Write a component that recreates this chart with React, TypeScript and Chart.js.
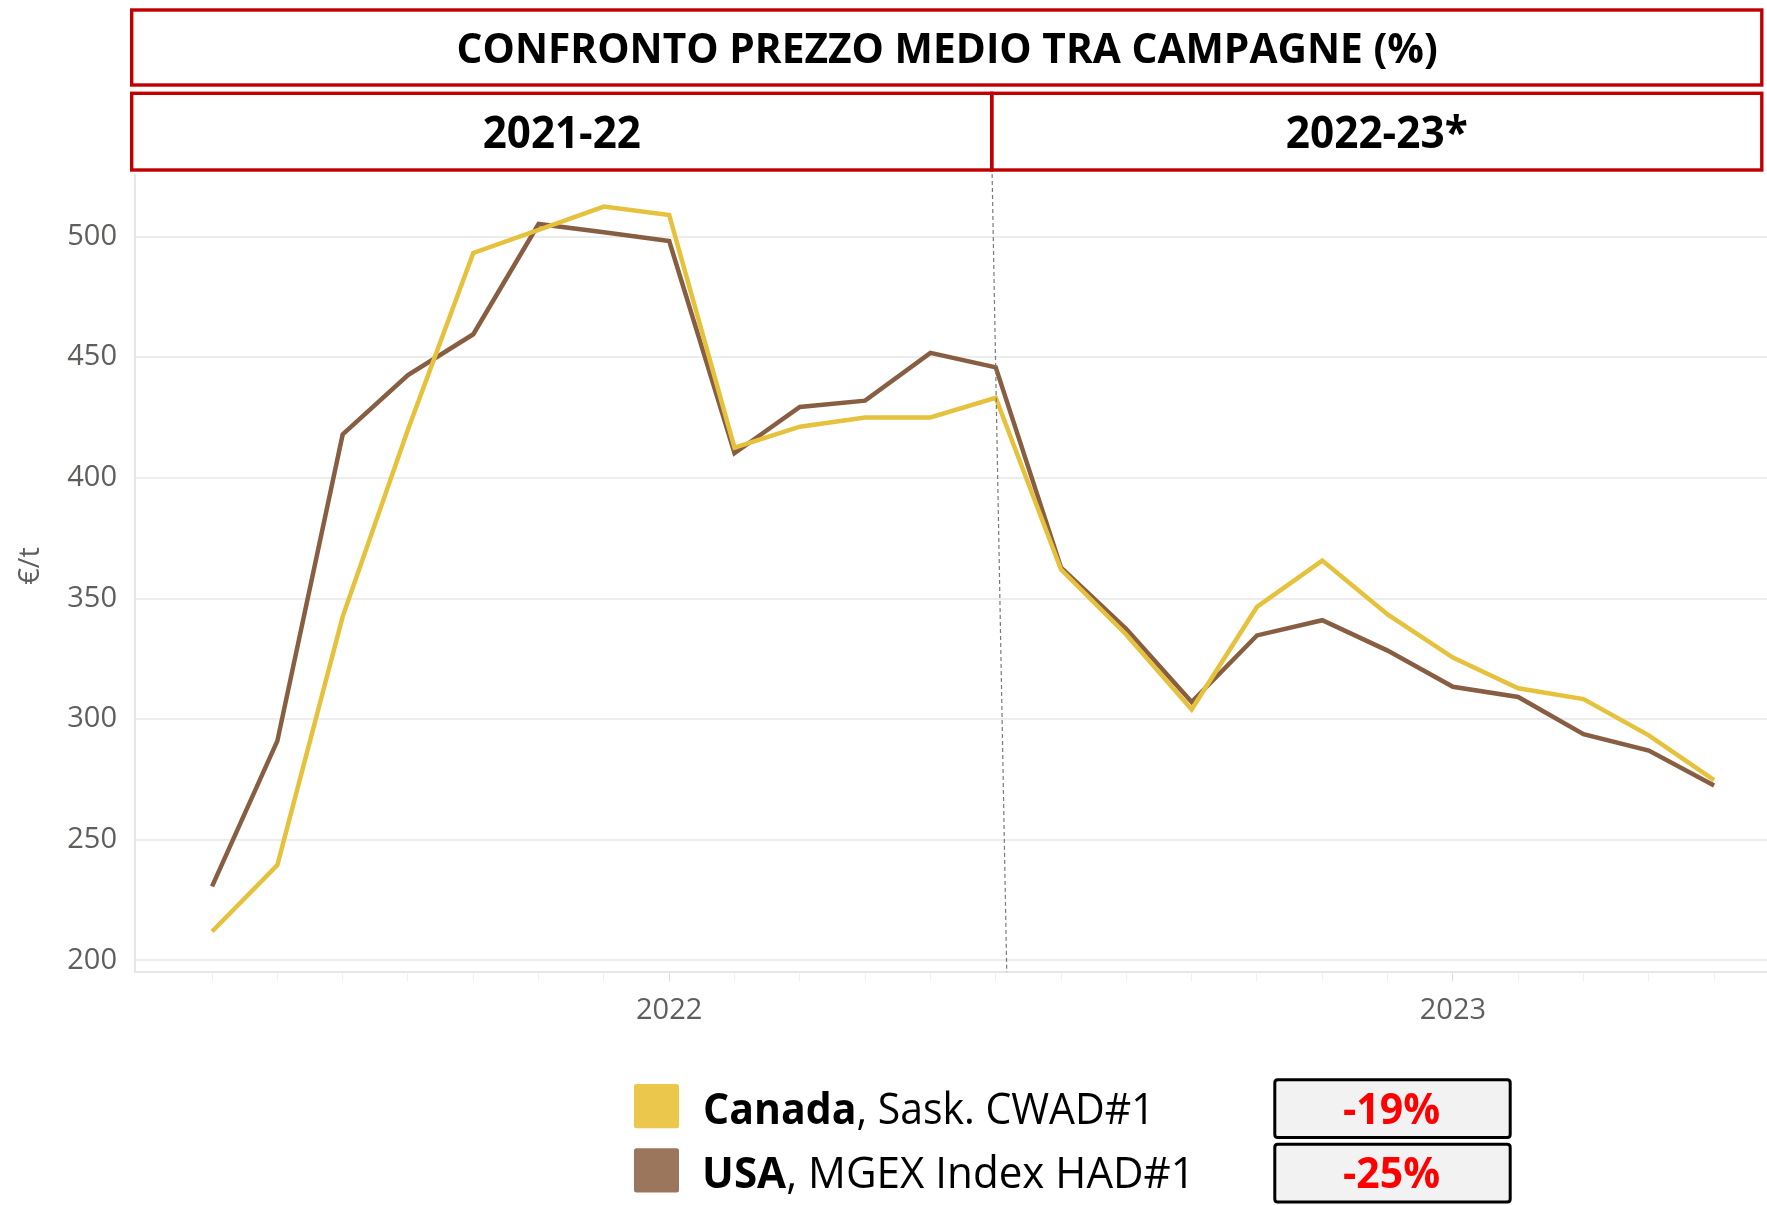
import React, { useEffect, useRef } from 'react';
import { Chart, registerables } from 'chart.js';

Chart.register(...registerables);

// ---------- DATA ----------
const months = [
  '2021-06', '2021-07', '2021-08', '2021-09', '2021-10', '2021-11', '2021-12',
  '2022-01', '2022-02', '2022-03', '2022-04', '2022-05', '2022-06', '2022-07',
  '2022-08', '2022-09', '2022-10', '2022-11', '2022-12', '2023-01', '2023-02',
  '2023-03', '2023-04', '2023-05',
];
const canadaPrices = [
  212, 239.5, 342.5, 420, 493.2, 502.8, 512.4, 508.9, 412.5, 421.2, 425, 425,
  433.2, 362, 335, 304, 346.5, 365.7, 343.4, 325.5, 312.8, 308.3, 293.3, 274.7,
];
const usaPrices = [
  230.7, 291, 418, 442.6, 459.5, 505.2, 501.8, 498.1, 410.2, 429.4, 432, 451.8,
  445.8, 362.8, 337.3, 307.1, 334.7, 341, 328.4, 313.4, 309.2, 293.8, 287, 272.5,
];
const yTicks = [200, 250, 300, 350, 400, 450, 500];
const seriesNames = ['Canada', 'USA'];
const seriesDetails = [', Sask. CWAD#1', ', MGEX Index HAD#1'];
const campaignChange = ['-19%', '-25%'];
const headerTitle = 'CONFRONTO PREZZO MEDIO TRA CAMPAGNE (%)';
const campaigns = ['2021-22', '2022-23*'];
const campaignSplitMonth = '2022-06';
const yAxisTitle = '€/t';

// ---------- STYLE ----------
const LINE_COLORS = ['#E6C13C', '#875E42'];
const SWATCH_COLORS = ['#EBC84B', '#9B755C'];
const RED = '#C00000';
const AXIS_TEXT = '#605E5C';
const W = 1767;
const H = 1205;

type Part = { text: string; font: string; color: string };

function fitText(
  ctx: CanvasRenderingContext2D,
  parts: Part[],
  x: number,
  baseline: number,
  targetW: number,
  align: 'left' | 'center'
) {
  const adv: number[] = [];
  let total = 0;
  let firstLeft = 0;
  let lastRight = 0;
  parts.forEach((p, i) => {
    ctx.font = p.font;
    const m = ctx.measureText(p.text);
    adv.push(m.width);
    if (i === 0) firstLeft = m.actualBoundingBoxLeft;
    if (i === parts.length - 1) lastRight = m.actualBoundingBoxRight;
    total += m.width;
  });
  const inkW = total - adv[adv.length - 1] + lastRight + firstLeft;
  const k = targetW / inkW;
  const inkStart = align === 'center' ? x - targetW / 2 : x;
  ctx.save();
  ctx.translate(inkStart, baseline);
  ctx.scale(k, 1);
  ctx.textAlign = 'left';
  ctx.textBaseline = 'alphabetic';
  let cx = firstLeft;
  parts.forEach((p, i) => {
    ctx.font = p.font;
    ctx.fillStyle = p.color;
    ctx.fillText(p.text, cx, 0);
    cx += adv[i];
  });
  ctx.restore();
}

function roundRect(ctx: CanvasRenderingContext2D, x: number, y: number, w: number, h: number, r: number) {
  ctx.beginPath();
  ctx.moveTo(x + r, y);
  ctx.lineTo(x + w - r, y);
  ctx.quadraticCurveTo(x + w, y, x + w, y + r);
  ctx.lineTo(x + w, y + h - r);
  ctx.quadraticCurveTo(x + w, y + h, x + w - r, y + h);
  ctx.lineTo(x + r, y + h);
  ctx.quadraticCurveTo(x, y + h, x, y + h - r);
  ctx.lineTo(x, y + r);
  ctx.quadraticCurveTo(x, y, x + r, y);
  ctx.closePath();
}

const overlayPlugin = {
  id: 'overlay',
  afterDatasetsDraw(chart: any) {
    const ctx: CanvasRenderingContext2D = chart.ctx;
    const xs = chart.scales.x;
    const idx = months.indexOf(campaignSplitMonth);
    const px = xs.getPixelForValue(idx);
    ctx.save();
    ctx.strokeStyle = '#7A7A7A';
    ctx.lineWidth = 1.2;
    ctx.setLineDash([4, 3]);
    ctx.beginPath();
    ctx.moveTo(px - 4, 153);
    ctx.lineTo(px + 11, chart.chartArea.bottom);
    ctx.stroke();
    ctx.restore();
  },
  afterDraw(chart: any) {
    const ctx: CanvasRenderingContext2D = chart.ctx;
    const xs = chart.scales.x;
    const splitX = xs.getPixelForValue(months.indexOf(campaignSplitMonth)) - 4;

    // y-axis title
    ctx.save();
    ctx.translate(30.5, 566);
    ctx.rotate(-Math.PI / 2);
    ctx.font = "29px 'Open Sans'";
    ctx.fillStyle = AXIS_TEXT;
    ctx.textAlign = 'center';
    ctx.textBaseline = 'middle';
    ctx.fillText(yAxisTitle, 0, 0);
    ctx.restore();

    // header boxes
    ctx.save();
    ctx.fillStyle = '#FFFFFF';
    ctx.fillRect(131.7, 10, 1761.8 - 131.7, 85 - 10);
    ctx.fillRect(131.7, 93.3, 1761.8 - 131.7, 170 - 93.3);
    ctx.strokeStyle = RED;
    ctx.lineWidth = 3.4;
    ctx.strokeRect(131.7, 10, 1761.8 - 131.7, 85 - 10);
    ctx.strokeRect(131.7, 93.3, splitX - 131.7, 170 - 93.3);
    ctx.strokeRect(splitX, 93.3, 1761.8 - splitX, 170 - 93.3);
    ctx.restore();

    fitText(ctx, [{ text: headerTitle, font: "bold 42px 'Open Sans'", color: '#000' }], 947.5, 63.3, 978, 'center');
    fitText(ctx, [{ text: campaigns[0], font: "bold 44px 'Open Sans'", color: '#000' }], (131.7 + splitX) / 2, 148.3, 156, 'center');
    fitText(ctx, [{ text: campaigns[1], font: "bold 44px 'Open Sans'", color: '#000' }], (splitX + 1761.8) / 2, 148.3, 180, 'center');

    // legend
    const rowTop = [1084, 1148.3];
    const baselines = [1124.3, 1188.3];
    const textW = [441.5, 481.5];
    const boxTop = [1079.8, 1144.2];
    for (let i = 0; i < seriesNames.length; i++) {
      ctx.save();
      ctx.fillStyle = SWATCH_COLORS[i];
      roundRect(ctx, 634, rowTop[i], 45, 44.3, 2.5);
      ctx.fill();
      ctx.restore();
      fitText(
        ctx,
        [
          { text: seriesNames[i], font: "bold 43px 'Open Sans'", color: '#000' },
          { text: seriesDetails[i], font: "43px 'Open Sans'", color: '#000' },
        ],
        705,
        baselines[i],
        textW[i],
        'left'
      );
      ctx.save();
      roundRect(ctx, 1274.8, boxTop[i], 235.4, 57.8, 3);
      ctx.fillStyle = '#F2F2F2';
      ctx.fill();
      ctx.lineWidth = 3;
      ctx.strokeStyle = '#000';
      ctx.stroke();
      ctx.restore();
      fitText(ctx, [{ text: campaignChange[i], font: "bold 43px 'Open Sans'", color: '#FF0000' }], 1391.7, baselines[i] - 0.3, 95.3, 'center');
    }
  },
};

export default function App() {
  const ref = useRef<HTMLCanvasElement | null>(null);

  useEffect(() => {
    document.body.style.margin = '0';
    const canvas = ref.current;
    if (!canvas) return;
    const chart = new Chart(canvas, {
      type: 'line',
      data: {
        datasets: [
          {
            label: seriesNames[0],
            data: canadaPrices.map((v, i) => ({ x: i, y: v })),
            borderColor: LINE_COLORS[0],
            backgroundColor: LINE_COLORS[0],
            borderWidth: 4.5,
            pointRadius: 0,
            tension: 0,
          },
          {
            label: seriesNames[1],
            data: usaPrices.map((v, i) => ({ x: i, y: v })),
            borderColor: LINE_COLORS[1],
            backgroundColor: LINE_COLORS[1],
            borderWidth: 4.5,
            pointRadius: 0,
            tension: 0,
          },
        ],
      },
      options: {
        responsive: false,
        animation: false,
        devicePixelRatio: 1,
        layout: { padding: { top: 175, left: 0, right: 0, bottom: 0 } },
        plugins: {
          legend: { display: false },
          tooltip: { enabled: false },
          title: { display: false },
        },
        scales: {
          x: {
            type: 'linear',
            min: -1.18,
            max: 23.81,
            afterBuildTicks: (s: any) => {
              s.ticks = months.map((_, i) => ({ value: i }));
            },
            afterFit: (s: any) => {
              s.height = H - 972.3;
            },
            ticks: {
              autoSkip: false,
              maxRotation: 0,
              minRotation: 0,
              padding: 12,
              color: AXIS_TEXT,
              font: { family: "'Open Sans'", size: 29 },
              callback: (v: any) => {
                const m = months[Math.round(Number(v))];
                return m && m.endsWith('-01') ? m.slice(0, 4) : '';
              },
            },
            grid: {
              display: true,
              drawOnChartArea: false,
              drawTicks: true,
              tickLength: 9,
              tickColor: (c: any) => {
                const m = months[Math.round(c.tick ? c.tick.value : -1)];
                return m && m.endsWith('-01') ? '#DADADA' : '#F0F0F0';
              },
            },
            border: { display: true, color: '#E6E6E6', width: 2 },
          },
          y: {
            type: 'linear',
            min: 195.1,
            max: 525.5,
            afterBuildTicks: (s: any) => {
              s.ticks = yTicks.map((v) => ({ value: v }));
            },
            afterFit: (s: any) => {
              s.width = 135;
            },
            ticks: {
              padding: 18,
              color: AXIS_TEXT,
              font: { family: "'Open Sans'", size: 29 },
            },
            grid: { color: '#EDEDED', lineWidth: 2, drawTicks: false },
            border: { display: true, color: '#E6E6E6', width: 2 },
          },
        },
      },
      plugins: [overlayPlugin],
    } as any);
    return () => chart.destroy();
  }, []);

  return (
    <div style={{ position: 'relative', width: W, height: H, overflow: 'hidden', background: '#fff' }}>
      <canvas ref={ref} width={W} height={H} style={{ display: 'block' }} />
    </div>
  );
}
